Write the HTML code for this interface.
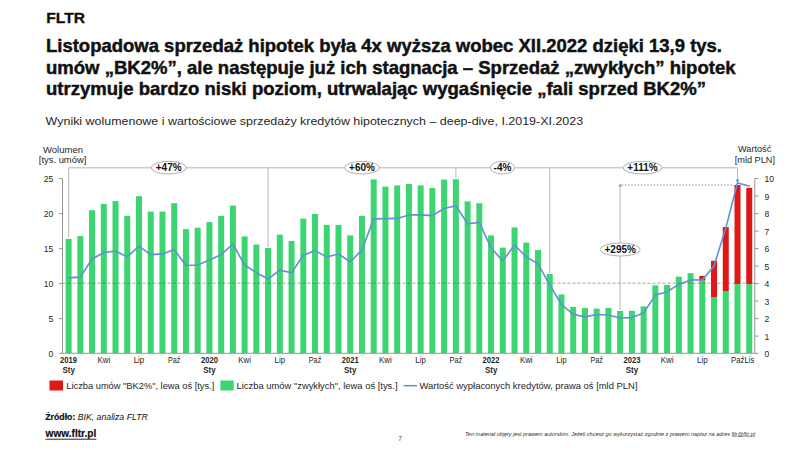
<!DOCTYPE html>
<html lang="pl"><head><meta charset="utf-8"><title>FLTR – sprzedaż hipotek</title>
<style>html,body{margin:0;padding:0;background:#fff}body{width:800px;height:450px;overflow:hidden}svg{display:block}</style></head>
<body>
<svg width="800" height="450" viewBox="0 0 800 450" font-family="'Liberation Sans', sans-serif" fill="#262626">
<rect width="800" height="450" fill="#ffffff"/>
<text x="46.2" y="23.3" font-size="15" font-weight="bold" textLength="38.8" lengthAdjust="spacingAndGlyphs" fill="#111" stroke="#111" stroke-width="0.3">FLTR</text>
<text x="46" y="51.5" font-size="18.2" font-weight="bold" textLength="676" lengthAdjust="spacingAndGlyphs" fill="#111" stroke="#111" stroke-width="0.45">Listopadowa sprzedaż hipotek była 4x wyższa wobec XII.2022 dzięki 13,9 tys.</text>
<text x="46" y="73.8" font-size="18.2" font-weight="bold" textLength="689.5" lengthAdjust="spacingAndGlyphs" fill="#111" stroke="#111" stroke-width="0.45">umów „BK2%”, ale następuje już ich stagnacja – Sprzedaż „zwykłych” hipotek</text>
<text x="46" y="95.4" font-size="18.2" font-weight="bold" textLength="660" lengthAdjust="spacingAndGlyphs" fill="#111" stroke="#111" stroke-width="0.45">utrzymuje bardzo niski poziom, utrwalając wygaśnięcie „fali sprzed BK2%”</text>
<text x="45.6" y="125.2" font-size="11.7" textLength="537.5" lengthAdjust="spacingAndGlyphs">Wyniki wolumenowe i wartościowe sprzedaży kredytów hipotecznych – deep-dive, I.2019-XI.2023</text>
<text x="43" y="152.6" font-size="9" textLength="40" lengthAdjust="spacingAndGlyphs">Wolumen</text>
<text x="38.8" y="163.4" font-size="9" textLength="47.5" lengthAdjust="spacingAndGlyphs">[tys. umów]</text>
<text x="738" y="152" font-size="9" textLength="33.3" lengthAdjust="spacingAndGlyphs">Wartość</text>
<text x="734.7" y="163.3" font-size="9" textLength="40.3" lengthAdjust="spacingAndGlyphs">[mld PLN]</text>
<g stroke="#a6a6a6" stroke-width="0.8" fill="none">
<path d="M68.6 237.9 V167.8 H737.5 V181.9"/>
<path d="M268.1 167.8 V247.0"/>
<path d="M455.9 167.8 V178.2"/>
<path d="M549.7 167.8 V273.0"/>
</g>
<path d="M620.1 310.0 V186" stroke="#a6a6a6" stroke-width="0.8" fill="none"/>
<path d="M620.1 183.6 l-1.5 3 h3 z" fill="#8c8c8c"/>
<path d="M621.6 185 H734.5" stroke="#8c8c8c" stroke-width="0.9" stroke-dasharray="1.6 1.6" fill="none"/>
<g fill="#3dd472">
<rect x="65.60" y="238.9" width="6.0" height="114.1"/>
<rect x="77.33" y="236.1" width="6.0" height="116.9"/>
<rect x="89.07" y="210.2" width="6.0" height="142.8"/>
<rect x="100.80" y="203.9" width="6.0" height="149.1"/>
<rect x="112.54" y="201.1" width="6.0" height="151.9"/>
<rect x="124.27" y="215.8" width="6.0" height="137.2"/>
<rect x="136.01" y="196.2" width="6.0" height="156.8"/>
<rect x="147.75" y="211.6" width="6.0" height="141.4"/>
<rect x="159.48" y="211.6" width="6.0" height="141.4"/>
<rect x="171.21" y="203.2" width="6.0" height="149.8"/>
<rect x="182.95" y="229.1" width="6.0" height="123.9"/>
<rect x="194.68" y="227.7" width="6.0" height="125.3"/>
<rect x="206.42" y="222.1" width="6.0" height="130.9"/>
<rect x="218.16" y="215.8" width="6.0" height="137.2"/>
<rect x="229.89" y="205.6" width="6.0" height="147.4"/>
<rect x="241.62" y="236.4" width="6.0" height="116.6"/>
<rect x="253.36" y="244.5" width="6.0" height="108.5"/>
<rect x="265.10" y="248.0" width="6.0" height="105.0"/>
<rect x="276.83" y="234.7" width="6.0" height="118.3"/>
<rect x="288.56" y="241.0" width="6.0" height="112.0"/>
<rect x="300.30" y="218.6" width="6.0" height="134.4"/>
<rect x="312.03" y="214.0" width="6.0" height="139.0"/>
<rect x="323.77" y="224.9" width="6.0" height="128.1"/>
<rect x="335.50" y="224.9" width="6.0" height="128.1"/>
<rect x="347.24" y="235.4" width="6.0" height="117.6"/>
<rect x="358.98" y="215.8" width="6.0" height="137.2"/>
<rect x="370.71" y="179.4" width="6.0" height="173.6"/>
<rect x="382.44" y="186.6" width="6.0" height="166.4"/>
<rect x="394.18" y="185.4" width="6.0" height="167.6"/>
<rect x="405.91" y="184.0" width="6.0" height="169.0"/>
<rect x="417.65" y="185.4" width="6.0" height="167.6"/>
<rect x="429.38" y="188.0" width="6.0" height="165.0"/>
<rect x="441.12" y="179.6" width="6.0" height="173.4"/>
<rect x="452.86" y="179.2" width="6.0" height="173.8"/>
<rect x="464.59" y="201.4" width="6.0" height="151.6"/>
<rect x="476.32" y="203.2" width="6.0" height="149.8"/>
<rect x="488.06" y="235.4" width="6.0" height="117.6"/>
<rect x="499.79" y="247.6" width="6.0" height="105.4"/>
<rect x="511.53" y="227.4" width="6.0" height="125.6"/>
<rect x="523.26" y="242.6" width="6.0" height="110.4"/>
<rect x="535.00" y="250.1" width="6.0" height="102.9"/>
<rect x="546.74" y="274.0" width="6.0" height="79.0"/>
<rect x="558.47" y="294.4" width="6.0" height="58.6"/>
<rect x="570.20" y="307.0" width="6.0" height="46.0"/>
<rect x="581.94" y="307.9" width="6.0" height="45.1"/>
<rect x="593.67" y="308.6" width="6.0" height="44.4"/>
<rect x="605.41" y="307.9" width="6.0" height="45.1"/>
<rect x="617.14" y="311.0" width="6.0" height="42.0"/>
<rect x="628.88" y="310.8" width="6.0" height="42.2"/>
<rect x="640.62" y="306.4" width="6.0" height="46.6"/>
<rect x="652.35" y="285.4" width="6.0" height="67.6"/>
<rect x="664.09" y="285.0" width="6.0" height="68.0"/>
<rect x="675.82" y="276.7" width="6.0" height="76.3"/>
<rect x="687.55" y="273.2" width="6.0" height="79.8"/>
<rect x="699.29" y="280.3" width="6.0" height="72.7"/>
<rect x="711.02" y="297.0" width="6.0" height="56.0"/>
<rect x="722.76" y="291.2" width="6.0" height="61.8"/>
<rect x="734.50" y="284.1" width="6.0" height="68.9"/>
<rect x="746.23" y="284.1" width="6.0" height="68.9"/>
</g>
<g fill="#e01717">
<rect x="699.29" y="276.0" width="6.0" height="4.3"/>
<rect x="711.02" y="260.8" width="6.0" height="36.2"/>
<rect x="722.76" y="227.0" width="6.0" height="64.2"/>
<rect x="734.50" y="185.0" width="6.0" height="99.1"/>
<rect x="746.23" y="187.8" width="6.0" height="96.3"/>
</g>
<path d="M62.5 283.2 H754.8" stroke="#8c4a3a" stroke-width="0.7" stroke-dasharray="3 2" fill="none" opacity="0.8"/>
<g stroke="#8a8a8a" stroke-width="0.9" fill="none">
<path d="M62.5 178.6 V353.3 H754.8 V178.6"/>
<path d="M62.5 353.3 h-3.5"/>
<path d="M62.5 318.6 h-3.5"/>
<path d="M62.5 283.6 h-3.5"/>
<path d="M62.5 248.6 h-3.5"/>
<path d="M62.5 213.6 h-3.5"/>
<path d="M62.5 178.6 h-3.5"/>
<path d="M754.8 353.3 h3.8"/>
<path d="M754.8 336.1 h3.8"/>
<path d="M754.8 318.6 h3.8"/>
<path d="M754.8 301.1 h3.8"/>
<path d="M754.8 283.6 h3.8"/>
<path d="M754.8 266.1 h3.8"/>
<path d="M754.8 248.6 h3.8"/>
<path d="M754.8 231.1 h3.8"/>
<path d="M754.8 213.6 h3.8"/>
<path d="M754.8 196.1 h3.8"/>
<path d="M754.8 178.6 h3.8"/>
</g>
<polyline points="68.6,277.9 80.3,277.1 92.1,259.0 103.8,252.6 115.5,251.0 127.3,256.9 139.0,246.1 150.7,254.6 162.5,253.9 174.2,249.4 185.9,265.5 197.7,265.0 209.4,260.1 221.2,254.6 232.9,244.0 244.6,265.0 256.4,272.7 268.1,279.0 279.8,270.1 291.6,272.7 303.3,255.3 315.0,250.6 326.8,256.9 338.5,253.9 350.2,262.0 362.0,249.9 373.7,218.9 385.4,218.6 397.2,218.4 408.9,214.9 420.6,214.9 432.4,215.6 444.1,208.5 455.9,205.7 467.6,223.7 479.3,222.4 491.1,248.0 502.8,260.9 514.5,245.0 526.3,256.9 538.0,263.9 549.7,284.9 561.5,304.5 573.2,314.3 584.9,316.9 596.7,314.5 608.4,315.0 620.1,318.0 631.9,317.6 643.6,312.9 655.4,295.1 667.1,291.8 678.8,284.4 690.6,279.9 702.3,280.0 714.0,266.0 725.8,228.1 737.5,182.9 749.2,186.1" fill="none" stroke="#6290d0" stroke-width="1.6" stroke-linejoin="round" stroke-linecap="round"/>
<path d="M737.5 183.4 l-1.8 -4 h3.6 z" fill="#6290d0"/>
<text x="48.5" y="357.2" font-size="9.5" textLength="4.8" lengthAdjust="spacingAndGlyphs">0</text>
<text x="48.5" y="322.2" font-size="9.5" textLength="4.8" lengthAdjust="spacingAndGlyphs">5</text>
<text x="43.8" y="287.2" font-size="9.5" textLength="9.5" lengthAdjust="spacingAndGlyphs">10</text>
<text x="43.8" y="252.2" font-size="9.5" textLength="9.5" lengthAdjust="spacingAndGlyphs">15</text>
<text x="43.8" y="217.2" font-size="9.5" textLength="9.5" lengthAdjust="spacingAndGlyphs">20</text>
<text x="43.8" y="182.2" font-size="9.5" textLength="9.5" lengthAdjust="spacingAndGlyphs">25</text>
<text x="764.6" y="357.2" font-size="9.5" textLength="4.8" lengthAdjust="spacingAndGlyphs">0</text>
<text x="764.6" y="339.7" font-size="9.5" textLength="4.8" lengthAdjust="spacingAndGlyphs">1</text>
<text x="764.6" y="322.2" font-size="9.5" textLength="4.8" lengthAdjust="spacingAndGlyphs">2</text>
<text x="764.6" y="304.7" font-size="9.5" textLength="4.8" lengthAdjust="spacingAndGlyphs">3</text>
<text x="764.6" y="287.2" font-size="9.5" textLength="4.8" lengthAdjust="spacingAndGlyphs">4</text>
<text x="764.6" y="269.7" font-size="9.5" textLength="4.8" lengthAdjust="spacingAndGlyphs">5</text>
<text x="764.6" y="252.2" font-size="9.5" textLength="4.8" lengthAdjust="spacingAndGlyphs">6</text>
<text x="764.6" y="234.7" font-size="9.5" textLength="4.8" lengthAdjust="spacingAndGlyphs">7</text>
<text x="764.6" y="217.2" font-size="9.5" textLength="4.8" lengthAdjust="spacingAndGlyphs">8</text>
<text x="764.6" y="199.7" font-size="9.5" textLength="4.8" lengthAdjust="spacingAndGlyphs">9</text>
<text x="764.6" y="182.2" font-size="9.5" textLength="9.5" lengthAdjust="spacingAndGlyphs">10</text>
<text x="60.1" y="363.3" font-size="8.6" font-weight="bold" textLength="17" lengthAdjust="spacingAndGlyphs">2019</text>
<text x="62.5" y="372.8" font-size="8.6" font-weight="bold" textLength="12.3" lengthAdjust="spacingAndGlyphs">Sty</text>
<text x="97.5" y="363.3" font-size="8.8" textLength="12.7" lengthAdjust="spacingAndGlyphs">Kwi</text>
<text x="133.7" y="363.3" font-size="8.8" textLength="10.6" lengthAdjust="spacingAndGlyphs">Lip</text>
<text x="167.9" y="363.3" font-size="8.8" textLength="12.6" lengthAdjust="spacingAndGlyphs">Paź</text>
<text x="200.9" y="363.3" font-size="8.6" font-weight="bold" textLength="17" lengthAdjust="spacingAndGlyphs">2020</text>
<text x="203.3" y="372.8" font-size="8.6" font-weight="bold" textLength="12.3" lengthAdjust="spacingAndGlyphs">Sty</text>
<text x="238.3" y="363.3" font-size="8.8" textLength="12.7" lengthAdjust="spacingAndGlyphs">Kwi</text>
<text x="274.5" y="363.3" font-size="8.8" textLength="10.6" lengthAdjust="spacingAndGlyphs">Lip</text>
<text x="308.7" y="363.3" font-size="8.8" textLength="12.6" lengthAdjust="spacingAndGlyphs">Paź</text>
<text x="341.7" y="363.3" font-size="8.6" font-weight="bold" textLength="17" lengthAdjust="spacingAndGlyphs">2021</text>
<text x="344.1" y="372.8" font-size="8.6" font-weight="bold" textLength="12.3" lengthAdjust="spacingAndGlyphs">Sty</text>
<text x="379.1" y="363.3" font-size="8.8" textLength="12.7" lengthAdjust="spacingAndGlyphs">Kwi</text>
<text x="415.3" y="363.3" font-size="8.8" textLength="10.6" lengthAdjust="spacingAndGlyphs">Lip</text>
<text x="449.6" y="363.3" font-size="8.8" textLength="12.6" lengthAdjust="spacingAndGlyphs">Paź</text>
<text x="482.6" y="363.3" font-size="8.6" font-weight="bold" textLength="17" lengthAdjust="spacingAndGlyphs">2022</text>
<text x="485.0" y="372.8" font-size="8.6" font-weight="bold" textLength="12.3" lengthAdjust="spacingAndGlyphs">Sty</text>
<text x="519.9" y="363.3" font-size="8.8" textLength="12.7" lengthAdjust="spacingAndGlyphs">Kwi</text>
<text x="556.2" y="363.3" font-size="8.8" textLength="10.6" lengthAdjust="spacingAndGlyphs">Lip</text>
<text x="590.4" y="363.3" font-size="8.8" textLength="12.6" lengthAdjust="spacingAndGlyphs">Paź</text>
<text x="623.4" y="363.3" font-size="8.6" font-weight="bold" textLength="17" lengthAdjust="spacingAndGlyphs">2023</text>
<text x="625.8" y="372.8" font-size="8.6" font-weight="bold" textLength="12.3" lengthAdjust="spacingAndGlyphs">Sty</text>
<text x="660.7" y="363.3" font-size="8.8" textLength="12.7" lengthAdjust="spacingAndGlyphs">Kwi</text>
<text x="697.0" y="363.3" font-size="8.8" textLength="10.6" lengthAdjust="spacingAndGlyphs">Lip</text>
<text x="731" y="363.3" font-size="8.8" textLength="23.3" lengthAdjust="spacingAndGlyphs">PaźLis</text>
<ellipse cx="168.7" cy="167.7" rx="17.5" ry="6.3" fill="#fff" stroke="#9a9a9a" stroke-width="0.8"/>
<text x="168.7" y="171.2" font-size="10" font-weight="bold" text-anchor="middle" fill="#111">+47%</text>
<ellipse cx="362.0" cy="167.7" rx="17.5" ry="6.3" fill="#fff" stroke="#9a9a9a" stroke-width="0.8"/>
<text x="362.0" y="171.2" font-size="10" font-weight="bold" text-anchor="middle" fill="#111">+60%</text>
<ellipse cx="502.5" cy="167.7" rx="12.2" ry="6.3" fill="#fff" stroke="#9a9a9a" stroke-width="0.8"/>
<text x="502.5" y="171.2" font-size="10" font-weight="bold" text-anchor="middle" fill="#111">-4%</text>
<ellipse cx="642.5" cy="167.7" rx="19.5" ry="6.3" fill="#fff" stroke="#9a9a9a" stroke-width="0.8"/>
<text x="642.5" y="171.2" font-size="10" font-weight="bold" text-anchor="middle" fill="#111">+111%</text>
<ellipse cx="620.2" cy="249.5" rx="20.0" ry="6.5" fill="#fff" stroke="#9a9a9a" stroke-width="0.8"/>
<text x="620.2" y="253.0" font-size="10" font-weight="bold" text-anchor="middle" fill="#111">+295%</text>
<rect x="49.5" y="380.5" width="13.5" height="10" fill="#e01717"/>
<text x="66.3" y="389.3" font-size="9.6" textLength="148" lengthAdjust="spacingAndGlyphs">Liczba umów "BK2%", lewa oś [tys.]</text>
<rect x="220.4" y="380.5" width="13.3" height="10" fill="#3dd472"/>
<text x="236.5" y="389.3" font-size="9.6" textLength="161" lengthAdjust="spacingAndGlyphs">Liczba umów "zwykłych", lewa oś [tys.]</text>
<path d="M403.5 385.7 h13.5" stroke="#6290d0" stroke-width="1.5"/>
<text x="419.5" y="389.3" font-size="9.6" textLength="218" lengthAdjust="spacingAndGlyphs">Wartość wypłaconych kredytów, prawa oś [mld PLN]</text>
<text x="45.3" y="420.3" font-size="9" fill="#111" textLength="102.5" lengthAdjust="spacingAndGlyphs"><tspan font-weight="bold" stroke="#111" stroke-width="0.2">Źródło:</tspan><tspan font-style="italic"> BIK, analiza FLTR</tspan></text>
<text x="45.6" y="437.2" font-size="10" font-weight="bold" textLength="50.6" lengthAdjust="spacingAndGlyphs" fill="#111" stroke="#111" stroke-width="0.2">www.fltr.pl</text>
<path d="M45.5 439.2 h50.8" stroke="#111" stroke-width="0.9"/>
<text x="400" y="441" font-size="6.5" text-anchor="middle" fill="#444">7</text>
<text x="465" y="435.5" font-size="5.4" font-style="italic" textLength="290" lengthAdjust="spacingAndGlyphs" fill="#333">Ten materiał objęty jest prawem autorskim. Jeżeli chcesz go wykorzystać zgodnie z prawem napisz na adres fltr@fltr.pl</text>
<path d="M732 436.6 h23" stroke="#333" stroke-width="0.4"/>
</svg>
</body></html>
